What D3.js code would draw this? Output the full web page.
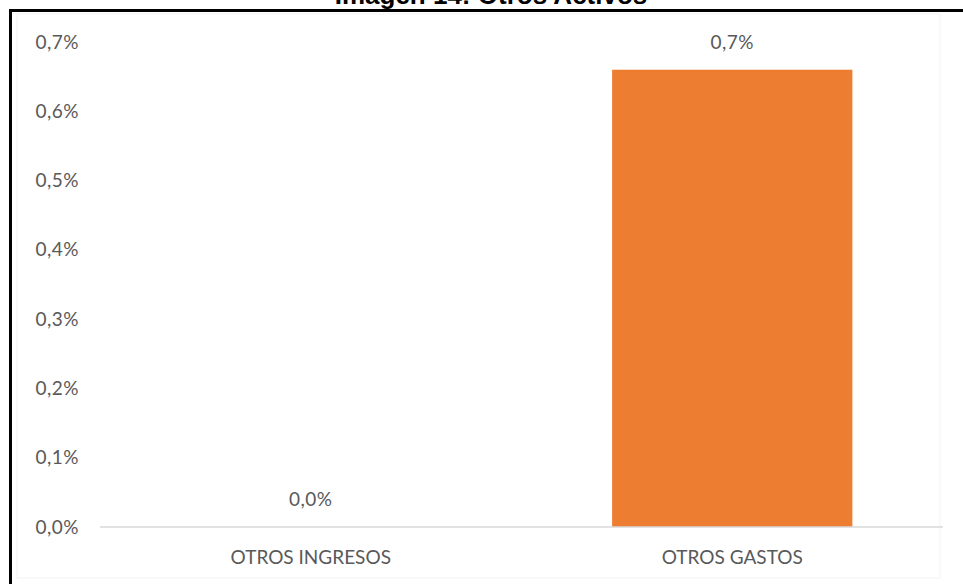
<!DOCTYPE html>
<html>
<head>
<meta charset="utf-8">
<script src="https://cdn.jsdelivr.net/npm/d3@7"></script>
<style>
  html, body { margin: 0; padding: 0; background: #ffffff; }
  svg { display: block; }
</style>
</head>
<body>
<svg id="chart" width="963" height="584"></svg>
<script>
// Data
const categories = ["OTROS INGRESOS", "OTROS GASTOS"];
const values = [0.0, 0.0066];          // share, as fraction
const tickValues = [0, 0.001, 0.002, 0.003, 0.004, 0.005, 0.006, 0.007];
const titleText = "Imagen 14: Otros Activos";

const W = 963, H = 584;
const margin = { top: 42, right: 20, bottom: 57, left: 100 };
const svg = d3.select("#chart");

const fmt = v => d3.format(".1f")(v * 100).replace(".", ",") + "%";

// Frame
svg.append("rect")
  .attr("x", 17).attr("y", 14).attr("width", W - 40).attr("height", 564)
  .attr("fill", "#ffffff").attr("stroke", "#f3f3f3").attr("stroke-width", 1);
svg.append("line").attr("x1", 9).attr("x2", W).attr("y1", 10.5).attr("y2", 10.5)
  .attr("stroke", "#000").attr("stroke-width", 3);
svg.append("line").attr("x1", 10.5).attr("x2", 10.5).attr("y1", 9).attr("y2", H)
  .attr("stroke", "#000").attr("stroke-width", 3);

// Title (sits above the frame, running off the top of the page)
svg.append("text")
  .attr("x", 491).attr("y", 4)
  .attr("text-anchor", "middle")
  .attr("font-family", "Liberation Sans, Arial, sans-serif")
  .attr("font-weight", "bold")
  .attr("font-size", 26)
  .attr("fill", "#000")
  .text(titleText);

const x = d3.scaleBand()
  .domain(categories)
  .range([margin.left, W - margin.right])
  .paddingInner(0.43)
  .paddingOuter(0.215);

const y = d3.scaleLinear()
  .domain([0, 0.007])
  .range([H - margin.bottom, margin.top]);

const font = "Lato, 'Open Sans', sans-serif";
const fs = 19;
const grey = "#595959";

// Y axis labels
const yAxis = svg.append("g")
  .attr("transform", `translate(${margin.left - 21},0)`)
  .call(d3.axisLeft(y).tickValues(tickValues).tickFormat(fmt).tickSize(0).tickPadding(0));
yAxis.select(".domain").remove();
yAxis.selectAll("text")
  .attr("font-family", font).attr("font-size", fs).attr("fill", grey)
  .attr("letter-spacing", 0.5);

// Bars
svg.append("g").selectAll("rect")
  .data(values)
  .join("rect")
  .attr("x", (d, i) => x(categories[i]))
  .attr("y", d => y(d))
  .attr("width", x.bandwidth())
  .attr("height", d => y(0) - y(d))
  .attr("fill", "#ED7D31");

// Baseline
svg.append("line")
  .attr("x1", margin.left).attr("x2", W - margin.right)
  .attr("y1", y(0)).attr("y2", y(0))
  .attr("stroke", "#d9d9d9").attr("stroke-width", 1.5);

// Value labels
svg.append("g").selectAll("text")
  .data(values)
  .join("text")
  .attr("x", (d, i) => x(categories[i]) + x.bandwidth() / 2)
  .attr("y", d => y(d) - 21)
  .attr("text-anchor", "middle")
  .attr("font-family", font).attr("font-size", fs).attr("fill", grey)
  .attr("letter-spacing", 0.5)
  .text(d => fmt(d));

// Category labels
const xAxis = svg.append("g")
  .attr("transform", `translate(0,${y(0)})`)
  .call(d3.axisBottom(x).tickSize(0).tickPadding(24));
xAxis.select(".domain").remove();
xAxis.selectAll("text")
  .attr("font-family", font).attr("font-size", fs).attr("fill", grey);
</script>
</body>
</html>
